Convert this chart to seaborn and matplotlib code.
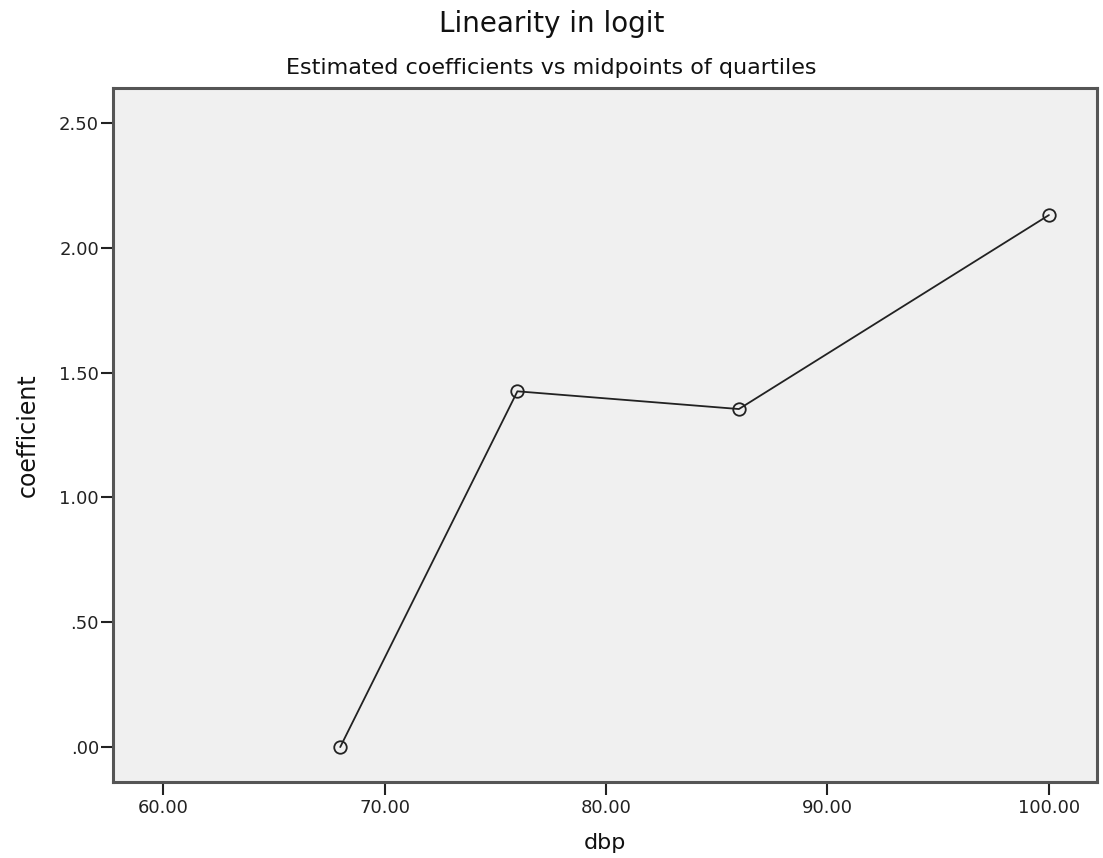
import matplotlib
matplotlib.use("Agg")
import matplotlib.pyplot as plt
import seaborn as sns
import pandas as pd

dbp = [68.0, 76.0, 86.0, 100.0]
coefficient = [0.0, 1.425, 1.354, 2.131]
x_ticks = [60, 70, 80, 90, 100]
y_ticks = [0.0, 0.5, 1.0, 1.5, 2.0, 2.5]
y_tick_labels = [".00", ".50", "1.00", "1.50", "2.00", "2.50"]
x_tick_labels = ["60.00", "70.00", "80.00", "90.00", "100.00"]

df = pd.DataFrame({"dbp": dbp, "coefficient": coefficient})

sns.set_theme(style="white")
plt.rcParams["font.family"] = ["DejaVu Sans"]

fig = plt.figure(figsize=(11.03, 8.58), dpi=100)
ax = fig.add_axes([113/1103, (858-782)/858, (1097-113)/1103, (782-88)/858])
ax.set_facecolor("#F0F0F0")

sns.lineplot(data=df, x="dbp", y="coefficient", ax=ax, color="#222222",
             linewidth=1.3, marker="o", markersize=9, markerfacecolor="none",
             markeredgecolor="#222222", markeredgewidth=1.3)

ax.set_xlim(57.74, 102.17)
ax.set_ylim(-0.14, 2.64)
ax.set_xticks(x_ticks)
ax.set_xticklabels(x_tick_labels)
ax.set_yticks(y_ticks)
ax.set_yticklabels(y_tick_labels)
ax.tick_params(axis="both", direction="out", length=9, width=1.5, color="#222222",
               labelsize=13, labelcolor="#222222", left=True, bottom=True)
ax.tick_params(axis="x", pad=3)
ax.tick_params(axis="y", pad=1)
for s in ax.spines.values():
    s.set_color("#555555")
    s.set_linewidth(2.2)

ax.set_xlabel("dbp", fontsize=16, color="#111111", labelpad=12)
ax.set_ylabel("coefficient", fontsize=17, color="#111111", labelpad=14)

fig.text(0.5, 1 - 32/858, "Linearity in logit", ha="center", va="baseline",
         fontsize=20, color="#111111")
fig.text(0.5, 1 - 74/858, "Estimated coefficients vs midpoints of quartiles",
         ha="center", va="baseline", fontsize=16, color="#111111")

fig.savefig("out.png", dpi=100)
